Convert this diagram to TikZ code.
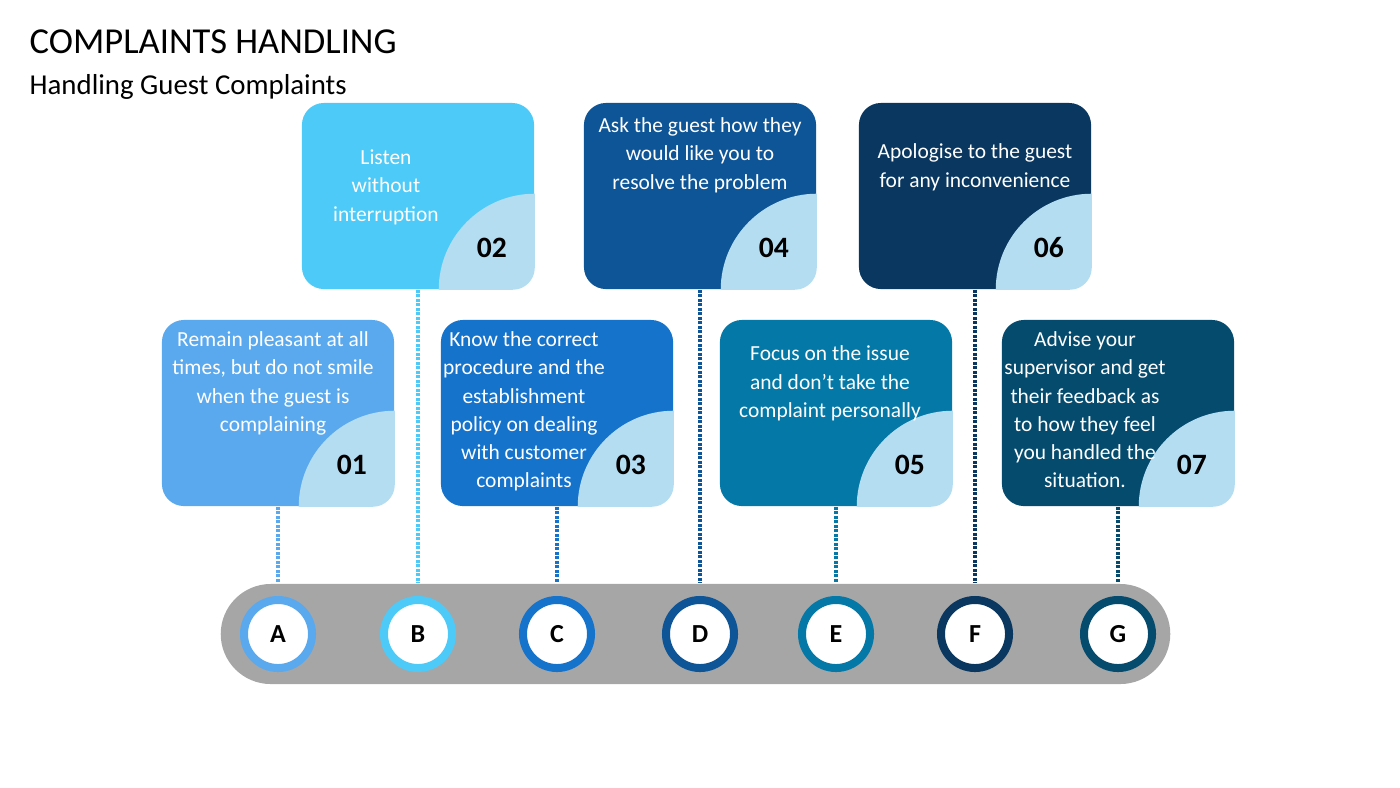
\documentclass[tikz,border=0pt]{standalone}
\usepackage{fontspec}
\setmainfont{Carlito}
\definecolor{cA}{HTML}{5AA9EE}
\definecolor{cB}{HTML}{4DCAF7}
\definecolor{cC}{HTML}{1673CC}
\definecolor{cD}{HTML}{0E5597}
\definecolor{cE}{HTML}{0478A6}
\definecolor{cF}{HTML}{09375F}
\definecolor{cG}{HTML}{054B6E}
\definecolor{qlight}{HTML}{B4DDF2}
\definecolor{bargray}{HTML}{A6A6A6}
\begin{document}
\begin{tikzpicture}
[   x=0.01cm,y=-0.01cm,
    card/.style={fill=#1,rounded corners=0.22cm,minimum width=2.32cm,minimum height=1.86cm,inner sep=0pt},
    cardtext/.style={text=white,font=\fontsize{6.1}{8}\selectfont,align=center,anchor=north,inner sep=0pt},
    num/.style={font=\bfseries\fontsize{8.4}{9}\selectfont},
    ring/.style={circle,draw=#1,line width=0.08cm,fill=white,minimum size=0.68cm,inner sep=0pt,font=\bfseries\fontsize{7.4}{8}\selectfont},
    link/.style={draw=#1,line width=0.045cm,dash pattern=on 0.03cm off 0.015cm},
]
    \useasboundingbox (0,0) rectangle (1400,787);
    \node[anchor=west,inner sep=0pt,font=\fontsize{10.4}{12}\selectfont] (title) at (29,42) {COMPLAINTS HANDLING};
    \node[anchor=west,inner sep=0pt,font=\fontsize{8.2}{9}\selectfont] (subtitle) at (29,87) {Handling Guest Complaints};
    % bar
    \node[fill=bargray,rounded corners=0.5cm,minimum width=9.49cm,minimum height=1cm,inner sep=0pt] (bar) at (695.5,634) {};
    \foreach \i/\l/\c/\x/\y in {1/A/cA/278/413, 2/B/cB/418/196, 3/C/cC/557/413,
        4/D/cD/700/196, 5/E/cE/836/413, 6/F/cF/975/196, 7/G/cG/1118/413}
    {   \node[card=\c] (box-\i) at (\x,\y) {};
        \begin{scope}
            \clip[rounded corners=0.22cm] (box-\i.south west) rectangle (box-\i.north east);
            \fill[qlight] (box-\i.south east) circle (0.96cm);
        \end{scope}
        \node[num,anchor=center] (n-\i) at ([xshift=-0.43cm,yshift=0.42cm]box-\i.south east) {0\i};
        \node[ring=\c] (r-\i) at (box-\i.south |- bar) {\l};
        \draw[link=\c] (box-\i.south) -- (r-\i |- bar.north);
    }
    \node[cardtext] (t-1) at ([xshift=-0.05cm,yshift=-0.12cm]box-1.north) {Remain pleasant at all\\times, but do not smile\\when the guest is\\complaining};
    \node[cardtext] (t-2) at ([xshift=-0.32cm,yshift=-0.47cm]box-2.north) {Listen\\without\\interruption};
    \node[cardtext] (t-3) at ([xshift=-0.33cm,yshift=-0.12cm]box-3.north) {Know the correct\\procedure and the\\establishment\\policy on dealing\\with customer\\complaints};
    \node[cardtext] (t-4) at ([yshift=-0.15cm]box-4.north) {Ask the guest how they\\would like you to\\resolve the problem};
    \node[cardtext] (t-5) at ([xshift=-0.06cm,yshift=-0.26cm]box-5.north) {Focus on the issue\\and don’t take the\\complaint personally};
    \node[cardtext] (t-6) at ([yshift=-0.41cm]box-6.north) {Apologise to the guest\\for any inconvenience};
    \node[cardtext] (t-7) at ([xshift=-0.33cm,yshift=-0.12cm]box-7.north) {Advise your\\supervisor and get\\their feedback as\\to how they feel\\you handled the\\situation.};
\end{tikzpicture}
\end{document}
